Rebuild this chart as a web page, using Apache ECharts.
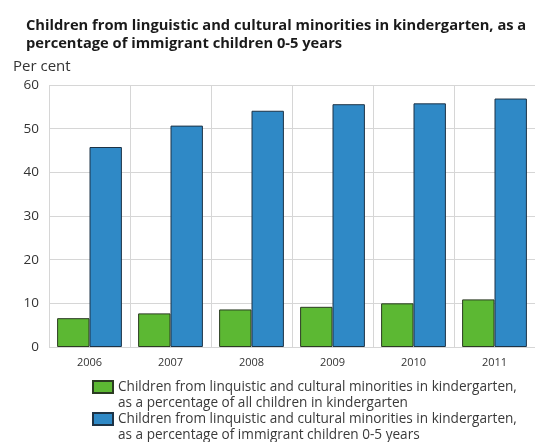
<!DOCTYPE html>
<html>
<head>
<meta charset="utf-8">
<script src="https://cdn.jsdelivr.net/npm/echarts@6/dist/echarts.min.js"></script>
<style>
  html, body { margin: 0; padding: 0; background: #fff; }
  #chart { width: 535px; height: 442px; }
</style>
</head>
<body>
<div id="chart"></div>
<script>
// Kindergarten attendance among children from linguistic and cultural minorities
const years = ['2006', '2007', '2008', '2009', '2010', '2011'];
const shareOfAllChildren = [6.6, 7.7, 8.6, 9.2, 10.0, 10.9];
const shareOfImmigrantChildren = [45.8, 50.7, 54.1, 55.6, 55.8, 56.9];
const yTicks = [0, 10, 20, 30, 40, 50, 60];

const seriesNames = [
  'Children from linquistic and cultural minorities in kindergarten,\nas a percentage of all children in kindergarten',
  'Children from linquistic and cultural minorities in kindergarten,\nas a percentage of immigrant children 0-5 years'
];

const font = '"Open Sans", "DejaVu Sans", sans-serif';
const chart = echarts.init(document.getElementById('chart'), null, { renderer: 'canvas' });

// Swatch occupies the top of a taller box so it lines up with the first text line
const swatchIcon = 'path://M0,0H20V12H0Z M0,28';

function legendBlock(name, top) {
  return {
    left: 92, top: top,
    padding: 0,
    itemWidth: 20, itemHeight: 28,
    icon: swatchIcon,
    data: [name],
    textStyle: { fontFamily: font, fontSize: 13.6, color: '#3a3a3a', lineHeight: 16 }
  };
}

chart.setOption({
  animation: false,
  backgroundColor: '#ffffff',
  title: [
    {
      text: 'Children from linguistic and cultural minorities in kindergarten, as a\npercentage of immigrant children 0-5 years',
      left: 21, top: 12,
      textStyle: { fontFamily: font, fontSize: 14.7, fontWeight: 'bold', color: '#1a1a1a', lineHeight: 18 }
    },
    {
      text: 'Per cent',
      left: 8, top: 54,
      textStyle: { fontFamily: font, fontSize: 15, fontWeight: 'normal', color: '#333' }
    }
  ],
  legend: [legendBlock(seriesNames[0], 379), legendBlock(seriesNames[1], 411)],
  grid: { left: 49, right: 0, top: 85, bottom: 95, containLabel: false },
  xAxis: {
    type: 'category',
    data: years,
    axisLine: { show: false },
    axisTick: { show: false },
    axisLabel: { fontFamily: font, fontSize: 11, color: '#333', margin: 10 },
    splitLine: { show: true, interval: 0, lineStyle: { color: '#d6d6d6', width: 1 } }
  },
  yAxis: {
    type: 'value',
    min: yTicks[0], max: yTicks[yTicks.length - 1], interval: 10,
    axisLine: { show: false },
    axisTick: { show: false },
    axisLabel: { fontFamily: font, fontSize: 13.5, color: '#333', margin: 10 },
    splitLine: { lineStyle: { color: '#d6d6d6', width: 1 } }
  },
  series: [
    {
      name: seriesNames[0], type: 'bar', data: shareOfAllChildren,
      barWidth: '40%', barGap: '0%',
      itemStyle: { color: '#5cb833', borderColor: '#2b3b22', borderWidth: 1 }
    },
    {
      name: seriesNames[1], type: 'bar', data: shareOfImmigrantChildren,
      barWidth: '40%', barGap: '0%',
      itemStyle: { color: '#2f89c6', borderColor: '#1d3346', borderWidth: 1 }
    }
  ]
});
</script>
</body>
</html>
